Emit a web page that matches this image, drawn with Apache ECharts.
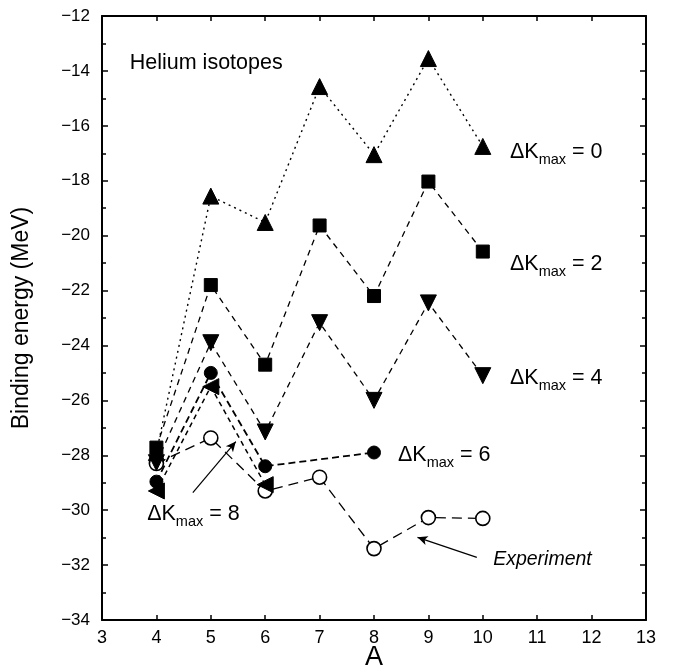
<!DOCTYPE html>
<html>
<head>
<meta charset="utf-8">
<script src="https://cdn.jsdelivr.net/npm/echarts@6/dist/echarts.min.js"></script>
<style>
  html, body { margin: 0; padding: 0; background: #fff; }
  #main { width: 673px; height: 671px; }
</style>
</head>
<body>
<div id="main"></div>
<script>
// mass number A
const massNumbers = [4, 5, 6, 7, 8, 9, 10];
// binding energies (MeV) for each ΔKmax
const dk0 = [-27.9, -18.56, -19.52, -14.57, -17.05, -13.55, -16.75];
const dk2 = [-27.72, -21.8, -24.7, -19.63, -22.2, -18.03, -20.58];
const dk4 = [-28.27, -23.9, -27.15, -23.17, -26.0, -22.45, -25.1];
const dk6A = [4, 5, 6, 8];
const dk6 = [-28.96, -25.0, -28.4, -27.9];
const dk8A = [4, 5, 6];
const dk8 = [-29.3, -25.5, -29.07];
const expt = [-28.3, -27.37, -29.3, -28.8, -31.4, -30.27, -30.3];

function pairs(xs, ys) {
  return xs.map((x, i) => [x, ys[i]]);
}

const FONT = '"Liberation Sans", Arial, sans-serif';

let myChart = echarts.init(document.getElementById('main'));

function line(name, data, symbol, size, dash, extra) {
  return Object.assign({
    name: name,
    type: 'line',
    data: data,
    symbol: symbol,
    symbolSize: size,
    showAllSymbol: true,
    animation: false,
    itemStyle: { color: '#000', borderColor: '#000' },
    lineStyle: { color: '#000', width: 1.3, type: dash }
  }, extra || {});
}

const tickStyle = { color: '#000', width: 1.5 };
const minusSign = v => String(v).replace('-', '\u2212');

let option = {
  backgroundColor: '#fff',
  animation: false,
  grid: { left: 102, right: 27, top: 16, bottom: 51, containLabel: false, outerBoundsMode: 'none' },
  xAxis: [
    {
      type: 'value', min: 3, max: 13, interval: 1,
      name: 'A', nameLocation: 'middle', nameGap: 38, nameMoveOverlap: false,
      nameTextStyle: { fontFamily: FONT, fontSize: 27, color: '#000', verticalAlign: 'middle' },
      axisLine: { lineStyle: { color: '#000', width: 2 } },
      axisTick: { inside: true, length: 5, lineStyle: tickStyle },
      axisLabel: { fontFamily: FONT, fontSize: 18, color: '#000', margin: 9 },
      splitLine: { show: false }
    },
    {
      type: 'value', min: 3, max: 13, interval: 1, position: 'top',
      axisLine: { lineStyle: { color: '#000', width: 2 } },
      axisTick: { inside: true, length: 5, lineStyle: tickStyle },
      axisLabel: { show: false },
      splitLine: { show: false }
    }
  ],
  yAxis: [
    {
      type: 'value', min: -34, max: -12, interval: 2,
      name: 'Binding energy (MeV)', nameLocation: 'middle', nameGap: 69,
      nameTextStyle: { fontFamily: FONT, fontSize: 23, color: '#000' },
      axisLine: { lineStyle: { color: '#000', width: 2 } },
      axisTick: { inside: true, length: 6, lineStyle: tickStyle },
      minorTick: { show: true, splitNumber: 2, length: 4, lineStyle: tickStyle },
      axisLabel: { fontFamily: FONT, fontSize: 17, color: '#000', margin: 12, formatter: minusSign },
      splitLine: { show: false }
    },
    {
      type: 'value', min: -34, max: -12, interval: 2, position: 'right',
      axisLine: { lineStyle: { color: '#000', width: 2 } },
      axisTick: { inside: true, length: 6, lineStyle: tickStyle },
      minorTick: { show: true, splitNumber: 2, length: 4, lineStyle: tickStyle },
      axisLabel: { show: false },
      splitLine: { show: false }
    }
  ],
  series: [
    line('Experiment', pairs(massNumbers, expt), 'circle', 14, [10, 6], {
      itemStyle: { color: '#fff', borderColor: '#000', borderWidth: 1.6 },
      z: 1,
      markLine: {
        silent: true,
        symbol: ['none', 'arrow'],
        symbolSize: [7, 10],
        label: { show: false },
        lineStyle: { color: '#000', width: 1.2, type: 'solid' },
        data: [
          [{ coord: [9.89, -31.72] }, { coord: [8.8, -30.99] }],
          [{ coord: [4.67, -29.36] }, { coord: [5.46, -27.5] }]
        ]
      }
    }),
    line('dk0', pairs(massNumbers, dk0), 'triangle', 16, [2, 4], { lineStyle: { color: '#000', width: 1.4, type: [2, 4] } }),
    line('dk2', pairs(massNumbers, dk2), 'rect', 13, [6, 5]),
    line('dk4', pairs(massNumbers, dk4), 'triangle', 16, [6, 5], { symbolRotate: 180 }),
    line('dk6', pairs(dk6A, dk6), 'circle', 13, [7, 4], { lineStyle: { color: '#000', width: 1.8, type: [7, 4] } }),
    line('dk8', pairs(dk8A, dk8), 'triangle', 16, [5, 4], { symbolRotate: 90, lineStyle: { color: '#000', width: 1.5, type: [5, 4] } })
  ]
};
myChart.setOption(option);

// annotation texts placed in data coordinates
function dkText(x, y, k) {
  const p = myChart.convertToPixel({ xAxisIndex: 0, yAxisIndex: 0 }, [x, y]);
  return {
    type: 'text', x: p[0], y: p[1], silent: true,
    style: {
      text: '{a|ΔK}{s|max}{a| = ' + k + '}',
      verticalAlign: 'middle',
      rich: {
        a: { fontFamily: FONT, fontSize: 21.5, fill: '#000', verticalAlign: 'middle' },
        s: { fontFamily: FONT, fontSize: 14.5, fill: '#000', padding: [16, 0, 0, 0], verticalAlign: 'middle' }
      }
    }
  };
}
function plainText(x, y, text, size, style) {
  const p = myChart.convertToPixel({ xAxisIndex: 0, yAxisIndex: 0 }, [x, y]);
  return {
    type: 'text', x: p[0], y: p[1], silent: true,
    style: { text: text, fontFamily: FONT, fontSize: size, fontStyle: style || 'normal', fill: '#000', verticalAlign: 'middle' }
  };
}

myChart.setOption({
  graphic: [
    plainText(3.51, -13.7, 'Helium isotopes', 21.5),
    dkText(10.5, -16.95, 0),
    dkText(10.5, -21.05, 2),
    dkText(10.5, -25.2, 4),
    dkText(8.44, -28.0, 6),
    dkText(3.83, -30.15, 8),
    plainText(10.19, -31.8, 'Experiment', 19.5, 'italic')
  ]
});
</script>
</body>
</html>
